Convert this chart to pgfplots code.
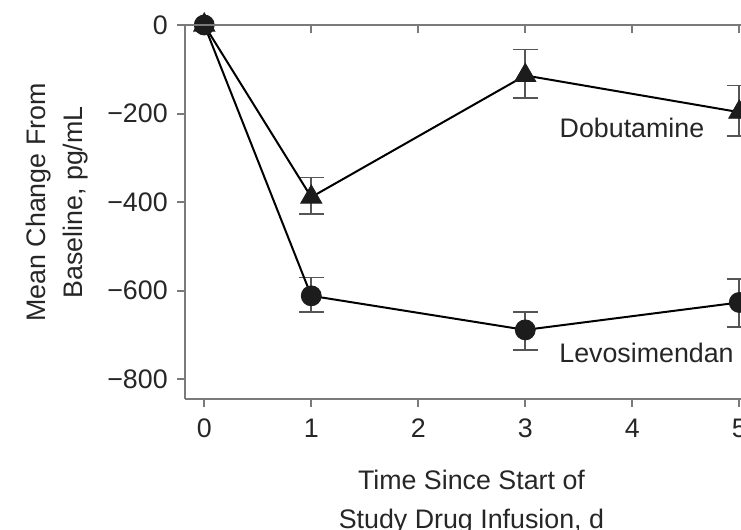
\documentclass[border=0pt]{standalone}
\usepackage{fontspec}
\setmainfont{Liberation Sans}
\usepackage{pgfplots}
\pgfplotsset{compat=1.18}
\definecolor{axgray}{HTML}{7A7A7A}
\definecolor{txt}{HTML}{262626}
\definecolor{mk}{HTML}{1C1C1C}
\definecolor{ebar}{HTML}{555555}
\begin{document}
\fontsize{13.4}{16}\selectfont
\begin{tikzpicture}
\pgfplotsset{
  common/.style={x=53.5pt, y=0.22125pt, xmin=-0.18, xmax=5.3, ymin=-845, ymax=0,
    axis line style={axgray, line width=1pt, -},
    tick style={axgray, line width=1pt},
    major tick length=4pt,
    tick label style={font=\fontsize{13.4}{16}\selectfont, text=txt},
    clip=false},
}
\begin{axis}[common,
  axis x line*=bottom, axis y line*=left, tick align=outside,
  xtick={0,1,2,3,4,5}, xticklabels={0,1,2,3,4,5},
  ytick={0,-200,-400,-600,-800}, yticklabels={0,−200,−400,−600,−800},
  xticklabel style={yshift=-1.5pt},
]
% error bars (drawn first)
\addplot[draw=none, mark=none, forget plot,
  error bars/.cd, y dir=both, y explicit,
  error bar style={ebar, line width=0.8pt},
  error mark options={ebar, line width=0.8pt, mark size=6.25pt, rotate=90}]
  coordinates {(1,-386) +- (0,41) (3,-110) +- (0,55) (5,-194) +- (0,57)};
\addplot[draw=none, mark=none, forget plot,
  error bars/.cd, y dir=both, y explicit,
  error bar style={ebar, line width=0.8pt},
  error mark options={ebar, line width=0.8pt, mark size=6.25pt, rotate=90}]
  coordinates {(1,-610) +- (0,39) (3,-691) +- (0,43) (5,-628) +- (0,54)};
% Levosimendan
\addplot[black, line width=1pt, mark=*, mark size=5pt,
  mark options={fill=mk, draw=mk, line width=0.4pt}]
  coordinates {(0,0) (1,-612) (3,-689) (5,-627)};
% Dobutamine
\addplot[black, line width=1pt, mark=triangle*, mark size=6.1pt,
  mark options={fill=mk, draw=mk, line width=0.4pt}]
  coordinates {(0,0) (1,-389) (3,-114) (5,-197)};
\node[anchor=base, text=txt] at (axis cs:3.997,-255) {Dobutamine};
\node[anchor=base, text=txt] at (axis cs:4.133,-763) {Levosimendan};
\node[anchor=base, rotate=90, text=txt] at (axis cs:-1.484,-401) {Mean Change From};
\node[anchor=base, rotate=90, text=txt] at (axis cs:-1.134,-401) {Baseline, pg/mL};
\node[anchor=base, text=txt] at (axis cs:2.497,-1050) {Time Since Start of};
\node[anchor=base, text=txt] at (axis cs:2.497,-1138) {Study Drug Infusion, d};
\coordinate (BL) at (axis cs:-1.909,-1139);
\coordinate (TR) at (axis cs:5.016,56.5);
\end{axis}
\begin{axis}[common,
  axis x line*=top, axis y line=none, tick align=inside,
  xtick={1,2,3,4,5}, xticklabels={}, ytick=\empty,
]
\end{axis}
\pgfresetboundingbox
\path[use as bounding box] (BL) rectangle (TR);
\end{tikzpicture}
\end{document}
